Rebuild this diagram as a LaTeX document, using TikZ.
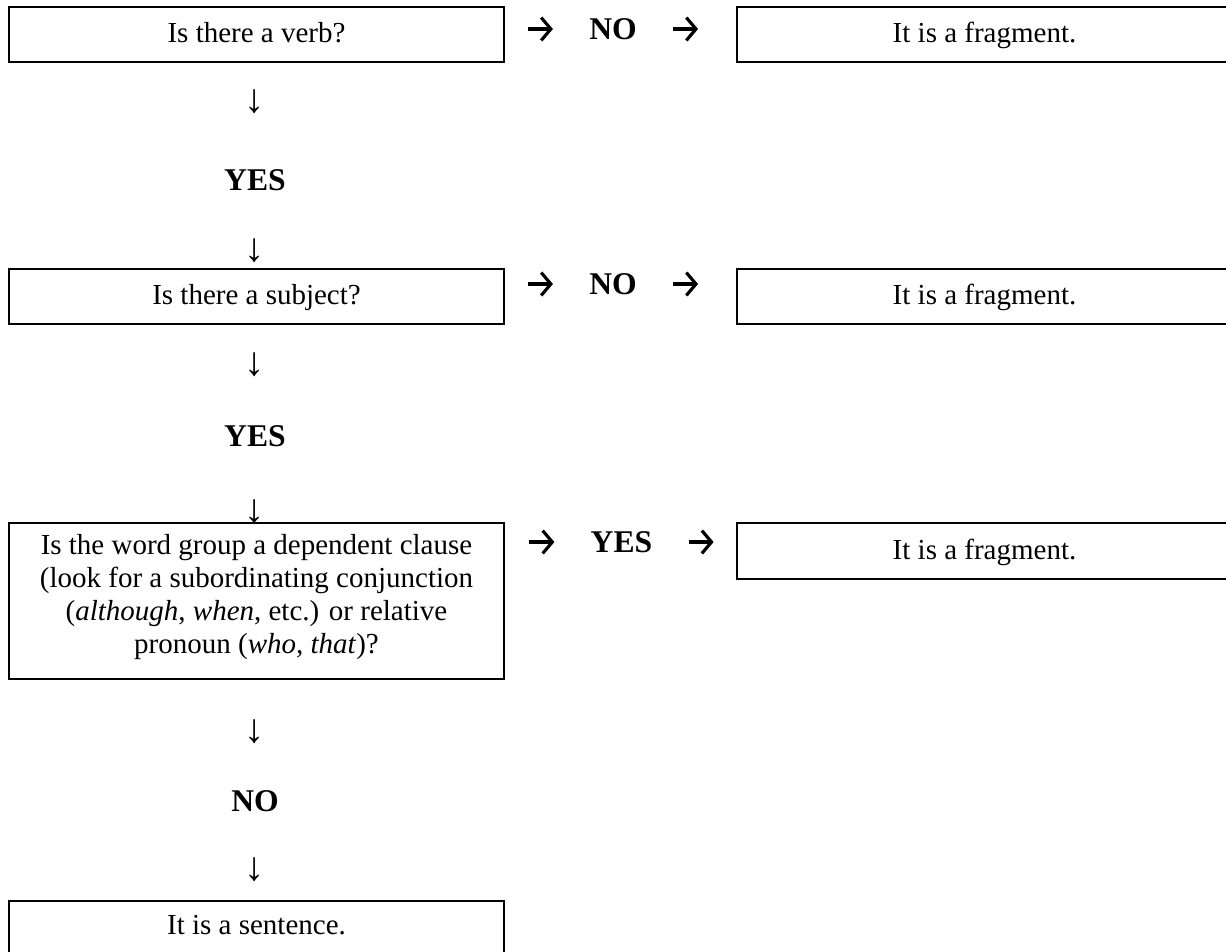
\documentclass[tikz,border=0pt]{standalone}
\usepackage{fontspec}
\setmainfont{Liberation Serif}
\usetikzlibrary{arrows.meta}
\newcommand{\bodysize}{\fontsize{16.5}{18.8}\selectfont}

\begin{document}
\begin{tikzpicture}[x=0.02cm,y=-0.02cm,
        every node/.style={font=\bodysize},
        frame/.style={draw,line width=1.1pt,minimum width=9.9cm,inner sep=0pt},
        box/.style={frame,minimum height=1.1cm,text height=1.15em,text depth=0.21em},
        answer/.style={font=\fontsize{18}{20}\selectfont\bfseries,inner sep=0pt},
        down/.style={font=\fontsize{23}{23}\selectfont},
        rarr/.style={line width=1.8pt,-{Straight Barb[length=5.5pt,width=13pt]}}]
    \useasboundingbox (0,0) rectangle (1226,951);
    \clip (0,0) rectangle (1226,951);
    % questions on the left
    \node[box] (verb) at (256.5,34.5) {Is there a verb?};
    \node[box] (subj) at (256.5,296.5) {Is there a subject?};
    \node[frame,minimum height=3.12cm,align=center] (dep) at (256.5,601)
        {Is the word group a dependent clause\\(look for a subordinating conjunction\\(\textit{although}, \textit{when}, etc.) or relative\\pronoun (\textit{who}, \textit{that})?\rule[-8pt]{0pt}{8pt}};
    \node[box,text height=0.9em,text depth=0.24em] (sent) at (256.5,928.5) {It is a sentence.};
    % results on the right
    \node[box] (frag1) at (984.5,34.5) {It is a fragment.};
    \node[box] (frag2) at (984.5,296.5) {It is a fragment.};
    \node[box,minimum height=1.12cm] (frag3) at (984.5,551) {It is a fragment.};
    % answers going right
    \node[answer] (no1) at (613,29) {NO};
    \node[answer] (no2) at (613,284) {NO};
    \node[answer] (yes3) at (621.5,542) {YES};
    \foreach \a in {no1,no2,yes3} {
        \draw[rarr] ([xshift=-1.22cm]\a.west) -- ([xshift=-0.72cm]\a.west);
        \draw[rarr] ([xshift=0.72cm]\a.east) -- ([xshift=1.22cm]\a.east);
    }
    % answers going down
    \node[down] (d1) at (255,102) {↓};
    \node[answer] (yes1) at (255,180) {YES};
    \node[down] (d2) at (255,251) {↓};
    \node[down] (d3) at (255,365) {↓};
    \node[answer] (yes2) at (255,436) {YES};
    \node[down] (d4) at (255,512) {↓};
    \node[down] (d5) at (255,732) {↓};
    \node[answer] (no3) at (255,801) {NO};
    \node[down] (d6) at (255,870) {↓};
\end{tikzpicture}
\end{document}
